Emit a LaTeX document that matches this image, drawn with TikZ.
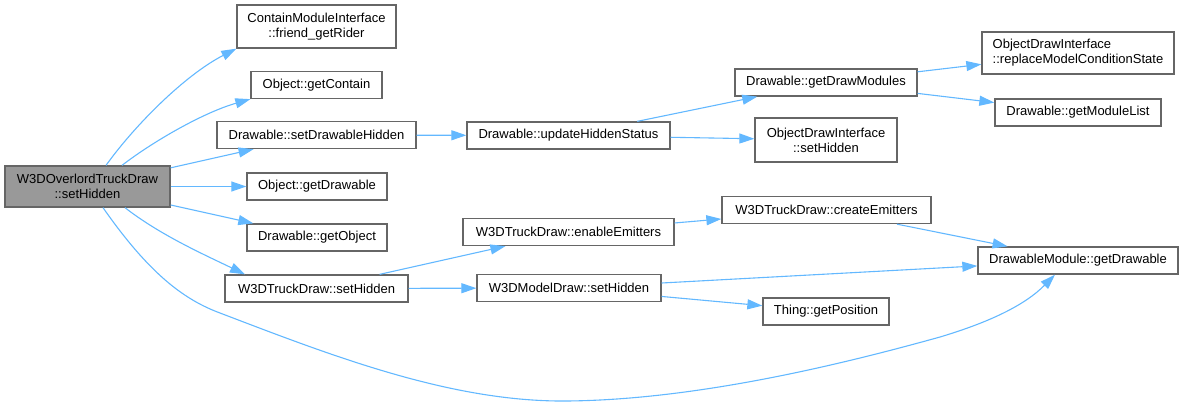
\documentclass[tikz,border=0pt]{standalone}
\usepackage{fontspec}
\setmainfont{Liberation Sans}
\usetikzlibrary{arrows.meta}
\definecolor{edgeblue}{HTML}{63B8FF}
\definecolor{boxgray}{HTML}{666666}
\definecolor{rootgray}{HTML}{999999}
\begin{document}
\begin{tikzpicture}[x=1pt,y=-1pt,
		fn/.style={draw=boxgray,fill=white,line width=1.3pt,inner sep=0pt,minimum height=27pt,align=center,font=\fontsize{13}{15}\selectfont},
		call/.style={draw=edgeblue,line width=1.1pt,-{Triangle[length=15pt,width=10pt]}}]
	\useasboundingbox (0,0) rectangle (1183,407);
	\node[fn,fill=rootgray,minimum width=165,minimum height=41] (root) at (87.5,186.5) {W3DOverlordTruckDraw\\::setHidden};
	\node[fn,minimum width=159,minimum height=43] (rider) at (316.5,26.5) {ContainModuleInterface\\::friend\_getRider};
	\node[fn,minimum width=131] (getcontain) at (316.5,85) {Object::getContain};
	\node[fn,minimum width=199] (setdh) at (316.5,135) {Drawable::setDrawableHidden};
	\node[fn,minimum width=140] (objdrawable) at (317,186.5) {Object::getDrawable};
	\node[fn,minimum width=140] (getobject) at (317,237.5) {Drawable::getObject};
	\node[fn,minimum width=183] (trucksh) at (316.5,288.5) {W3DTruckDraw::setHidden};
	\node[fn,minimum width=203] (updhs) at (568.5,135.5) {Drawable::updateHiddenStatus};
	\node[fn,minimum width=211] (enable) at (568.5,232) {W3DTruckDraw::enableEmitters};
	\node[fn,minimum width=184] (modelsh) at (569,288) {W3DModelDraw::setHidden};
	\node[fn,minimum width=182] (drawmods) at (826,82.5) {Drawable::getDrawModules};
	\node[fn,minimum width=142,minimum height=44] (odish) at (826,140) {ObjectDrawInterface\\::setHidden};
	\node[fn,minimum width=209] (create) at (826.5,210) {W3DTruckDraw::createEmitters};
	\node[fn,minimum width=126] (position) at (826,311.5) {Thing::getPosition};
	\node[fn,align=left,minimum width=192,minimum height=42] (replace) at (1078,53) {ObjectDrawInterface\\::replaceModelConditionState};
	\node[fn,minimum width=166] (modlist) at (1078,112.5) {Drawable::getModuleList};
	\node[fn,minimum width=200] (dmget) at (1078,260.5) {DrawableModule::getDrawable};
	\draw[call] ([xshift=18.5]root.north) .. controls (135,125) and (185,75) .. (rider.south west);
	\draw[call] ([xshift=34.5]root.north) .. controls (155,140) and (205,112) .. (getcontain.south west);
	\draw[call] (root) -- (setdh);
	\draw[call] (root) -- (objdrawable);
	\draw[call] (root) -- (getobject);
	\draw[call] ([xshift=37.5]root.south) .. controls (160,235) and (205,255) .. ([xshift=-71.5]trucksh.north);
	\draw[call] ([xshift=15.5]root.south) .. controls (150,275) and (185,300) .. (220,313)
		.. controls (330,355) and (450,402) .. (566,401)
		.. controls (700,400) and (850,362) .. (940,337)
		.. controls (990,322) and (1025,305) .. ([xshift=-23]dmget.south);
	\draw[call] (setdh) -- (updhs);
	\draw[call] (updhs) -- (drawmods);
	\draw[call] (updhs) -- (odish);
	\draw[call] (drawmods) -- (replace);
	\draw[call] (drawmods) -- (modlist);
	\draw[call] (trucksh) -- (enable);
	\draw[call] (trucksh) -- (modelsh);
	\draw[call] (enable) -- (create);
	\draw[call] (create) -- (dmget);
	\draw[call] (modelsh) -- (dmget);
	\draw[call] (modelsh) -- (position);
\end{tikzpicture}
\end{document}
